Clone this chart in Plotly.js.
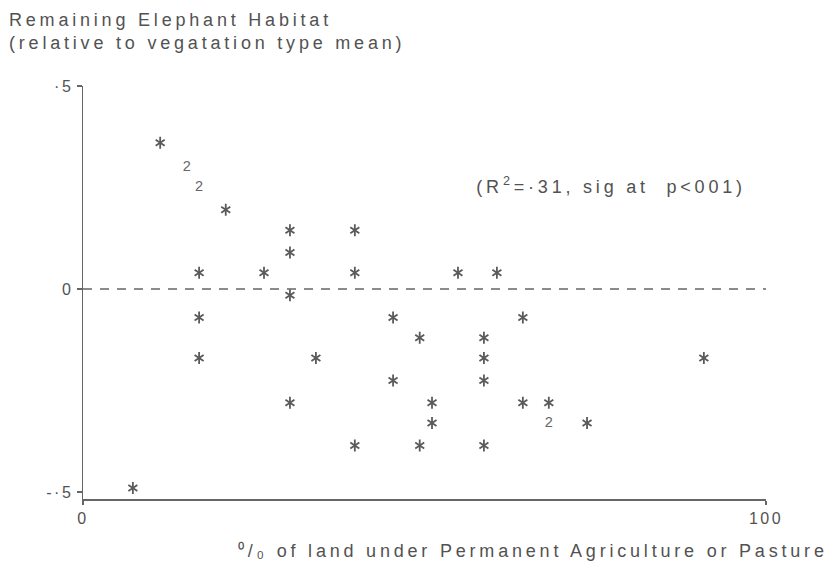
<!DOCTYPE html>
<html>
<head>
<meta charset="utf-8">
<script src="https://cdn.plot.ly/plotly-3.0.1.min.js"></script>
<style>
  html, body { margin: 0; padding: 0; background: #fff; }
  #chart { width: 831px; height: 567px; }
  /* wide, typewriter-like tracking of the printed labels */
  #chart .annotation-text { letter-spacing: 3.8px; }
  #chart .xtick text, #chart .ytick text { letter-spacing: 2.5px; }
</style>
</head>
<body>
<div id="chart"></div>
<script>
// % of land under permanent agriculture or pasture
const pctLand = [7.3, 11.3, 15.2, 17, 20.9, 17, 17, 17, 26.5, 30.3, 30.3, 30.3, 30.3, 34.1,
  39.8, 39.8, 39.8, 45.4, 45.4, 49.3, 49.3, 51.1, 51.1, 54.9, 58.7, 58.7, 58.7, 58.7,
  60.6, 64.4, 64.4, 68.2, 68.2, 73.8, 90.9];
// remaining elephant habitat, relative to vegetation type mean
const habitat = [-0.49, 0.36, 0.30, 0.25, 0.195, 0.04, -0.07, -0.17, 0.04, 0.145, 0.09, -0.015, -0.28, -0.17,
  0.145, 0.04, -0.385, -0.07, -0.225, -0.12, -0.385, -0.28, -0.33, 0.04, -0.12, -0.17, -0.225, -0.385,
  0.04, -0.07, -0.28, -0.28, -0.33, -0.33, -0.17];
// number of observations plotted at each position
const count = [1, 1, 2, 2, 1, 1, 1, 1, 1, 1, 1, 1, 1, 1,
  1, 1, 1, 1, 1, 1, 1, 1, 1, 1, 1, 1, 1, 1,
  1, 1, 1, 1, 2, 1, 1];

const yTickVals = [-0.5, 0, 0.5];
const yTickText = ['-\u00b75', '0', '\u00b75'];
const xTickVals = [0, 100];
const xTickText = ['0', '100'];

const ink = '#525252';
const fontFam = '"Liberation Sans", Arial, sans-serif';

const single = count.map((c, i) => c === 1 ? i : -1).filter(i => i >= 0);
const double = count.map((c, i) => c === 2 ? i : -1).filter(i => i >= 0);

// a printed asterisk: two three-armed symbols overlaid give six arms
const starTrace = (sym) => ({
  type: 'scatter', mode: 'markers',
  x: single.map(i => pctLand[i]),
  y: single.map(i => habitat[i]),
  marker: { symbol: sym, size: 7.5, color: '#5a5a5a', line: { color: '#5a5a5a', width: 1.8 } },
  hoverinfo: 'x+y', showlegend: false
});

const traces = [
  starTrace('y-up-open'),
  starTrace('y-down-open'),
  {
    type: 'scatter', mode: 'text',
    x: double.map(i => pctLand[i]),
    y: double.map(i => habitat[i]),
    text: double.map(i => String(count[i])),
    textposition: 'middle center',
    textfont: { family: fontFam, size: 14.5, color: '#666666' },
    hoverinfo: 'x+y', showlegend: false
  }
];

const layout = {
  width: 831, height: 567,
  margin: { l: 83, r: 65, t: 86, b: 68 },
  paper_bgcolor: '#ffffff', plot_bgcolor: '#ffffff',
  font: { family: fontFam, color: ink, size: 16 },
  xaxis: {
    range: [0, 100], showgrid: false, zeroline: false,
    showline: true, linecolor: '#666666', linewidth: 1.5,
    ticks: 'outside', ticklen: 4, tickcolor: '#666666', tickwidth: 1.5,
    tickvals: xTickVals, ticktext: xTickText,
    tickfont: { family: fontFam, size: 16, color: ink }
  },
  yaxis: {
    range: [-0.517, 0.5], showgrid: false, zeroline: false,
    showline: true, linecolor: '#666666', linewidth: 1.5,
    ticks: 'outside', ticklen: 5, tickcolor: '#666666', tickwidth: 1.5,
    tickvals: yTickVals, ticktext: yTickText,
    tickfont: { family: fontFam, size: 16, color: ink }
  },
  shapes: [{
    type: 'line', xref: 'x', yref: 'y', x0: 0, x1: 100, y0: 0, y1: 0,
    line: { color: '#666666', width: 1.5, dash: '9px,8px' }
  }],
  annotations: [
    {
      // vertical-axis caption, printed horizontally above the axis
      text: 'Remaining Elephant Habitat<br>(relative to vegatation type mean)',
      xref: 'paper', yref: 'paper', x: -0.111, y: 1.19,
      showarrow: false, xanchor: 'left', yanchor: 'top', align: 'left',
      font: { family: fontFam, size: 18, color: ink }
    },
    {
      text: '(R<sup>2</sup>=\u00b731, sig at  p<001)',
      xref: 'x', yref: 'y', x: 77.3, y: 0.256,
      showarrow: false, xanchor: 'center', yanchor: 'middle',
      font: { family: fontFam, size: 18, color: ink }
    },
    {
      text: '\u2070/\u2080 of land under Permanent Agriculture or Pasture',
      xref: 'paper', yref: 'paper', x: 0.659, y: -0.126,
      showarrow: false, xanchor: 'center', yanchor: 'middle',
      font: { family: fontFam, size: 18, color: ink }
    }
  ]
};

Plotly.newPlot('chart', traces, layout, { displayModeBar: false, staticPlot: true });
</script>
</body>
</html>
